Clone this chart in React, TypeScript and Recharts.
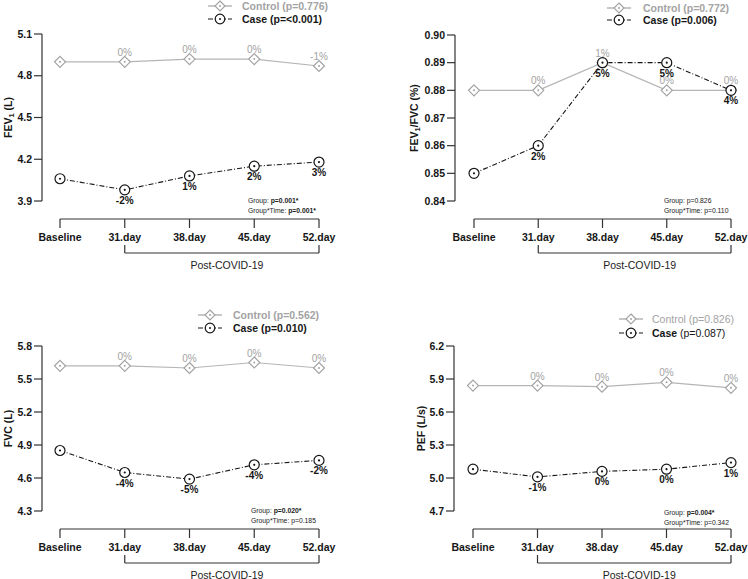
import React from 'react';
import { LineChart, Line, XAxis, YAxis, ReferenceLine, LabelList } from 'recharts';

const days = ['Baseline', '31.day', '38.day', '45.day', '52.day'];

const fev1Control = [4.9, 4.9, 4.92, 4.92, 4.87];
const fev1Case = [4.06, 3.98, 4.08, 4.15, 4.18];
const fev1ControlPct = ['', '0%', '0%', '0%', '-1%'];
const fev1CasePct = ['', '-2%', '1%', '2%', '3%'];
const fev1Ticks = [3.9, 4.2, 4.5, 4.8, 5.1];

const ratioControl = [0.88, 0.88, 0.89, 0.88, 0.88];
const ratioCase = [0.85, 0.86, 0.89, 0.89, 0.88];
const ratioControlPct = ['', '0%', '1%', '0%', '0%'];
const ratioCasePct = ['', '2%', '5%', '5%', '4%'];
const ratioTicks = [0.84, 0.85, 0.86, 0.87, 0.88, 0.89, 0.9];

const fvcControl = [5.62, 5.62, 5.6, 5.65, 5.6];
const fvcCase = [4.85, 4.65, 4.59, 4.72, 4.76];
const fvcControlPct = ['', '0%', '0%', '0%', '0%'];
const fvcCasePct = ['', '-4%', '-5%', '-4%', '-2%'];
const fvcTicks = [4.3, 4.6, 4.9, 5.2, 5.5, 5.8];

const pefControl = [5.84, 5.84, 5.83, 5.87, 5.82];
const pefCase = [5.08, 5.01, 5.06, 5.08, 5.14];
const pefControlPct = ['', '0%', '0%', '0%', '0%'];
const pefCasePct = ['', '-1%', '0%', '0%', '1%'];
const pefTicks = [4.7, 5.0, 5.3, 5.6, 5.9, 6.2];

const FONT = '"Liberation Sans", Arial, Helvetica, sans-serif';
const GRAY = '#a3a3a3';
const DARK = '#161616';
const CASE_DASH = '5 2 1 2';

const ControlDot = (p: any) => {
  const { cx, cy, index } = p;
  const r = 5.5;
  return (
    <g key={`cd-${index}`}>
      <path d={`M${cx},${cy - r}L${cx + r},${cy}L${cx},${cy + r}L${cx - r},${cy}Z`} fill="#fff" stroke={GRAY} strokeWidth={1.2} />
      <circle cx={cx} cy={cy} r={1} fill={GRAY} />
    </g>
  );
};

const CaseDot = (p: any) => {
  const { cx, cy, index } = p;
  return (
    <g key={`kd-${index}`}>
      <circle cx={cx} cy={cy} r={5} fill="#fff" stroke={DARK} strokeWidth={1.2} />
      <circle cx={cx} cy={cy} r={1.1} fill={DARK} />
    </g>
  );
};

const ctrlLabel = (p: any) => {
  if (!p.value) return null;
  return (
    <text x={p.x} y={p.y - 6} textAnchor="middle" fontSize={10} fill={GRAY} fontFamily={FONT}>
      {p.value}
    </text>
  );
};

const caseLabel = (p: any) => {
  if (!p.value) return null;
  return (
    <text x={p.x} y={p.y + 14} textAnchor="middle" fontSize={10} fontWeight="bold" fill={DARK} fontFamily={FONT}>
      {p.value}
    </text>
  );
};

const XTick = (p: any) => {
  const { x, y, payload, index } = p;
  const bracket = index === 1 || index === days.length - 1;
  return (
    <g>
      <line x1={x} y1={y + 18} x2={x} y2={y + 27} stroke="#333" strokeWidth={1.2} />
      <text x={x} y={y + 40} textAnchor="middle" fontSize={10.5} fontWeight="bold" fill={DARK} fontFamily={FONT}>
        {payload.value}
      </text>
      {bracket && <line x1={x} y1={y + 44} x2={x} y2={y + 52} stroke="#333" strokeWidth={1.2} />}
    </g>
  );
};

const axisShape = (p: any) => (
  <line x1={p.x1} y1={p.y1 + 18} x2={p.x2} y2={p.y2 + 18} stroke="#333" strokeWidth={1.2} />
);

const bracketShape = (p: any) => (
  <g>
    <line x1={p.x1} y1={p.y1 + 52} x2={p.x2} y2={p.y2 + 52} stroke="#333" strokeWidth={1.2} />
    <text x={(p.x1 + p.x2) / 2 + 5} y={p.y1 + 68} textAnchor="middle" fontSize={10.5} fill="#222" fontFamily={FONT}>
      Post-COVID-19
    </text>
  </g>
);

function LegendIcon({ type }: { type: 'control' | 'case' }) {
  return (
    <svg width={24} height={14} style={{ display: 'block' }}>
      {type === 'control' ? (
        <g>
          <line x1={0} y1={7} x2={24} y2={7} stroke={GRAY} strokeWidth={1.2} />
          <path d="M12,2L17,7L12,12L7,7Z" fill="#fff" stroke={GRAY} strokeWidth={1.2} />
          <circle cx={12} cy={7} r={1} fill={GRAY} />
        </g>
      ) : (
        <g>
          <line x1={0} y1={7} x2={24} y2={7} stroke={DARK} strokeWidth={1.2} strokeDasharray={CASE_DASH} />
          <circle cx={12} cy={7} r={4.8} fill="#fff" stroke={DARK} strokeWidth={1.2} />
          <circle cx={12} cy={7} r={1} fill={DARK} />
        </g>
      )}
    </svg>
  );
}

interface PanelProps {
  left: number;
  top: number;
  width: number;
  height: number;
  margin: { top: number; right: number; left: number; bottom: number };
  xHeight: number;
  padding: { left: number; right: number };
  control: number[];
  caseVals: number[];
  controlPct: string[];
  casePct: string[];
  ticks: number[];
  digits: number;
  yLabel: React.ReactNode;
  labelX: number;
  legendX: number;
  legendTextX: number;
  legendY: [number, number];
  controlText: React.ReactNode;
  caseText: React.ReactNode;
  statX: number;
  statY: number;
  groupP: React.ReactNode;
  timeP: React.ReactNode;
}

function Panel(props: PanelProps) {
  const data = days.map((d, i) => ({
    day: d,
    control: props.control[i],
    case: props.caseVals[i],
    ctrlPct: props.controlPct[i],
    casePct: props.casePct[i],
  }));
  const lo = props.ticks[0];
  const hi = props.ticks[props.ticks.length - 1];
  const yLabel = (p: any) => {
    const vb = p.viewBox;
    const cy = vb.y + vb.height / 2;
    const x = props.labelX;
    return (
      <text
        x={x}
        y={cy}
        transform={`rotate(-90, ${x}, ${cy})`}
        textAnchor="middle"
        dominantBaseline="central"
        fontSize={10.5}
        fontWeight="bold"
        fill={DARK}
        fontFamily={FONT}
      >
        {props.yLabel}
      </text>
    );
  };
  return (
    <div style={{ position: 'absolute', left: props.left, top: props.top, width: props.width, height: props.height }}>
      <LineChart width={props.width} height={props.height} data={data} margin={props.margin}>
        <XAxis
          dataKey="day"
          interval={0}
          tickLine={false}
          axisLine={false}
          tickSize={0}
          tickMargin={0}
          height={props.xHeight}
          padding={props.padding}
          tick={XTick}
        />
        <YAxis
          domain={[lo, hi]}
          ticks={props.ticks}
          allowDataOverflow
          width={42}
          tickSize={8}
          tickMargin={2}
          axisLine={{ stroke: '#333', strokeWidth: 1.2 }}
          tickLine={{ stroke: '#333', strokeWidth: 1.2 }}
          tick={{ fontSize: 10.5, fontWeight: 'bold', fill: DARK, fontFamily: FONT }}
          tickFormatter={(v: number) => v.toFixed(props.digits)}
          label={{ content: yLabel }}
        />
        <ReferenceLine
          segment={[{ x: days[0], y: lo }, { x: days[days.length - 1], y: lo }]}
          ifOverflow="visible"
          shape={axisShape}
        />
        <ReferenceLine
          segment={[{ x: days[1], y: lo }, { x: days[days.length - 1], y: lo }]}
          ifOverflow="visible"
          shape={bracketShape}
        />
        <Line
          dataKey="control"
          stroke="#b5b5b5"
          strokeWidth={1.2}
          dot={ControlDot}
          activeDot={false}
          isAnimationActive={false}
        >
          <LabelList dataKey="ctrlPct" content={ctrlLabel} />
        </Line>
        <Line
          dataKey="case"
          stroke={DARK}
          strokeWidth={1.1}
          strokeDasharray={CASE_DASH}
          dot={CaseDot}
          activeDot={false}
          isAnimationActive={false}
        >
          <LabelList dataKey="casePct" content={caseLabel} />
        </Line>
      </LineChart>
      {(['control', 'case'] as const).map((t, i) => (
        <React.Fragment key={t}>
          <div style={{ position: 'absolute', left: props.legendX - 12, top: props.legendY[i] - 7 }}>
            <LegendIcon type={t} />
          </div>
          <div
            style={{
              position: 'absolute',
              left: props.legendTextX,
              top: props.legendY[i] - 7,
              height: 14,
              lineHeight: '14px',
              fontSize: 10.5,
              fontFamily: FONT,
              whiteSpace: 'nowrap',
              color: t === 'control' ? GRAY : DARK,
            }}
          >
            {t === 'control' ? props.controlText : props.caseText}
          </div>
        </React.Fragment>
      ))}
      <div
        style={{
          position: 'absolute',
          left: props.statX,
          top: props.statY - 5,
          fontSize: 6.8,
          lineHeight: '10px',
          fontFamily: FONT,
          color: '#222',
          whiteSpace: 'nowrap',
        }}
      >
        <div>Group: {props.groupP}</div>
        <div>Group*Time: {props.timeP}</div>
      </div>
    </div>
  );
}

const b = (s: string) => <b>{s}</b>;

export default function App() {
  const topMargin = { top: 34, right: 37, left: 0, bottom: 9 };
  const botMargin = { top: 56, right: 37, left: 0, bottom: 8 };
  return (
    <div style={{ position: 'absolute', left: 0, top: 0, width: 748, height: 579, background: '#fff', overflow: 'hidden' }}>
      <Panel
        left={0}
        top={0}
        width={374}
        height={290}
        margin={topMargin}
        xHeight={80}
        padding={{ left: 18, right: 18 }}
        control={fev1Control}
        caseVals={fev1Case}
        controlPct={fev1ControlPct}
        casePct={fev1CasePct}
        ticks={fev1Ticks}
        digits={1}
        yLabel={<><tspan>FEV</tspan><tspan fontSize={7.5} dy={3}>1</tspan><tspan dy={-3}> (L)</tspan></>}
        labelX={8}
        legendX={220}
        legendTextX={242}
        legendY={[6, 19]}
        controlText={<b>Control (p=0.776)</b>}
        caseText={<b>Case (p=&lt;0.001)</b>}
        statX={248}
        statY={201}
        groupP={b('p=0.001*')}
        timeP={b('p=0.001*')}
      />
      <Panel
        left={374}
        top={0}
        width={374}
        height={290}
        margin={{ top: 35, right: 0, left: 39, bottom: 9 }}
        xHeight={80}
        padding={{ left: 19, right: 17 }}
        control={ratioControl}
        caseVals={ratioCase}
        controlPct={ratioControlPct}
        casePct={ratioCasePct}
        ticks={ratioTicks}
        digits={2}
        yLabel={<><tspan>FEV</tspan><tspan fontSize={7.5} dy={3}>1</tspan><tspan dy={-3}>/FVC (%)</tspan></>}
        labelX={40}
        legendX={245}
        legendTextX={269}
        legendY={[8, 20]}
        controlText={<b>Control (p=0.772)</b>}
        caseText={<b>Case (p=0.006)</b>}
        statX={290}
        statY={201}
        groupP="p=0.826"
        timeP="p=0.110"
      />
      <Panel
        left={0}
        top={290}
        width={374}
        height={289}
        margin={botMargin}
        xHeight={60}
        padding={{ left: 18, right: 18 }}
        control={fvcControl}
        caseVals={fvcCase}
        controlPct={fvcControlPct}
        casePct={fvcCasePct}
        ticks={fvcTicks}
        digits={1}
        yLabel="FVC (L)"
        labelX={8}
        legendX={210}
        legendTextX={233}
        legendY={[25, 38]}
        controlText={<b>Control (p=0.562)</b>}
        caseText={<b>Case (p=0.010)</b>}
        statX={251}
        statY={221}
        groupP={b('p=0.020*')}
        timeP="p=0.185"
      />
      <Panel
        left={374}
        top={290}
        width={374}
        height={289}
        margin={{ top: 56, right: 0, left: 38, bottom: 8 }}
        xHeight={60}
        padding={{ left: 19, right: 17 }}
        control={pefControl}
        caseVals={pefCase}
        controlPct={pefControlPct}
        casePct={pefCasePct}
        ticks={pefTicks}
        digits={1}
        yLabel="PEF (L/s)"
        labelX={47}
        legendX={257}
        legendTextX={278}
        legendY={[29, 43]}
        controlText="Control (p=0.826)"
        caseText={<><b>Case</b> (p=0.087)</>}
        statX={290}
        statY={223}
        groupP={b('p=0.004*')}
        timeP="p=0.342"
      />
    </div>
  );
}
